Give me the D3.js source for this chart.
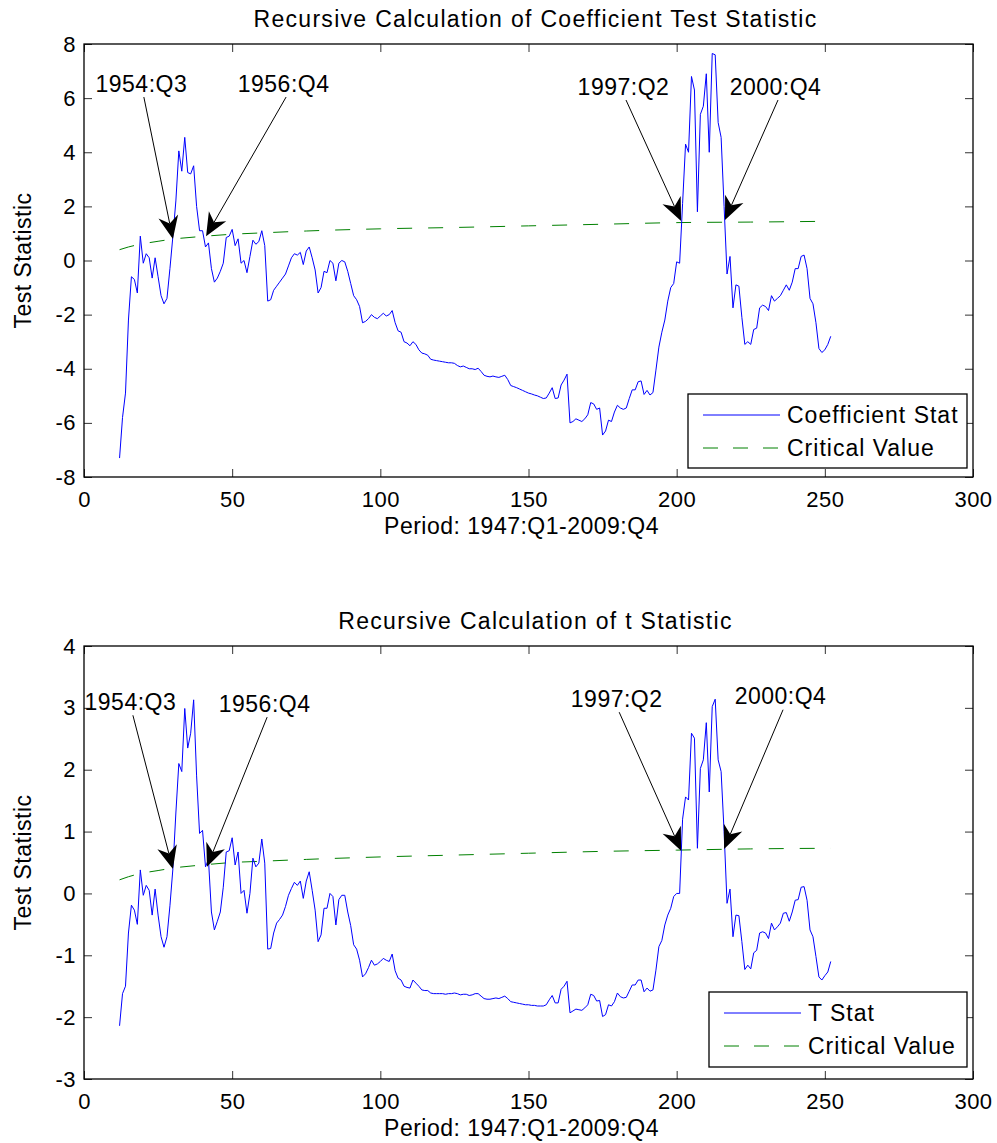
<!DOCTYPE html>
<html>
<head>
<meta charset="utf-8">
<script src="https://cdn.jsdelivr.net/npm/d3@7"></script>
<style>
  body { margin: 0; background: #fff; }
  svg text { font-family: Arial, "Liberation Sans", Helvetica, sans-serif; fill: #000; }
</style>
</head>
<body>
<svg id="chart"></svg>
<script>
const w = 997, h = 1143;

// quarters counted from 1947:Q1 = 1; both series start at period 12
const firstPeriod = 12;

const xTicks = [0, 50, 100, 150, 200, 250, 300];
const coefYTicks = [-8, -6, -4, -2, 0, 2, 4, 6, 8];
const tYTicks = [-3, -2, -1, 0, 1, 2, 3, 4];

const coefStat = [
  -7.3, -5.8, -4.9, -2.2, -0.6, -0.7, -1.2, 0.9, -0.1, 0.25,
  0.1, -0.65, 0.1, -0.6, -1.3, -1.6, -1.4, -0.3, 0.9, 2.2,
  4.05, 3.3, 4.55, 3.25, 3.2, 3.5, 2.0, 1.1, 1.1, 0.5,
  0.65, -0.3, -0.8, -0.65, -0.4, -0.1, 0.85, 0.9, 1.15, 0.55,
  0.8, -0.1, 0.0, -0.45, 0.15, 0.75, 0.6, 0.7, 1.1, 0.55,
  -1.5, -1.45, -1.1, -0.95, -0.8, -0.65, -0.5, -0.2, 0.1, 0.25,
  0.2, 0.3, -0.15, 0.35, 0.5, 0.1, -0.35, -1.2, -1.0, -0.4,
  -0.45, 0.0, -0.1, -0.75, -0.1, 0.0, -0.05, -0.4, -0.85, -1.3,
  -1.45, -1.7, -2.3, -2.25, -2.15, -2.0, -2.1, -2.15, -2.05, -1.95,
  -2.05, -2.0, -1.85, -2.3, -2.6, -2.65, -3.0, -3.05, -3.15, -3.0,
  -3.1, -3.3, -3.42, -3.45, -3.5, -3.65, -3.68, -3.7, -3.72, -3.74,
  -3.76, -3.78, -3.78, -3.8, -3.88, -3.93, -3.9, -3.95, -4.0, -4.0,
  -4.03, -3.98, -4.1, -4.24, -4.28, -4.3, -4.27, -4.3, -4.32, -4.28,
  -4.24, -4.4, -4.62, -4.66, -4.7, -4.75, -4.8, -4.85, -4.9, -4.93,
  -4.97, -5.0, -5.05, -5.1, -5.08, -4.9, -4.7, -5.1, -5.08, -4.6,
  -4.42, -4.2, -6.0, -5.95, -5.85, -5.9, -5.95, -5.85, -5.7, -5.25,
  -5.3, -5.5, -5.45, -6.45, -6.3, -5.9, -5.95, -5.6, -5.35, -5.45,
  -5.5, -5.45, -5.1, -4.78, -4.78, -4.48, -4.45, -4.95, -4.8, -4.97,
  -4.88, -4.05, -3.2, -2.65, -2.2, -1.5, -1.0, -0.85, -0.05, -0.1,
  2.1, 4.3, 4.0, 6.8, 6.3, 1.8, 5.4, 5.7, 6.9, 4.0,
  7.65, 7.6, 5.1, 4.55, 2.0, -0.5, 0.15, -1.75, -0.9, -0.95,
  -2.1, -3.1, -3.0, -3.1, -2.55, -2.5, -1.75, -1.65, -1.7, -1.85,
  -1.3, -1.5, -1.4, -1.3, -1.1, -0.9, -1.1, -0.8, -0.3, -0.3,
  0.15, 0.2, -0.3, -1.4, -1.6, -2.3, -3.25, -3.4, -3.3, -3.1,
  -2.8
];

const tStat = [
  -2.14, -1.62, -1.5, -0.64, -0.19, -0.27, -0.5, 0.38, -0.03, 0.13,
  0.05, -0.35, 0.07, -0.35, -0.7, -0.87, -0.7, -0.2, 0.4, 1.3,
  2.1, 1.97, 2.99, 2.35, 2.59, 3.13, 1.9, 0.97, 1.02, 0.43,
  0.55, -0.3, -0.59, -0.45, -0.3, 0.1, 0.67, 0.69, 0.9, 0.46,
  0.67, 0.0, 0.05, -0.32, 0.0, 0.57, 0.43, 0.49, 0.88, 0.49,
  -0.9, -0.89, -0.64, -0.48, -0.42, -0.35, -0.21, -0.03, 0.08, 0.18,
  0.13, 0.2, -0.08, 0.2, 0.35, 0.05, -0.27, -0.78, -0.67, -0.24,
  -0.24, 0.0, -0.05, -0.51, -0.1, -0.03, -0.03, -0.3, -0.52, -0.83,
  -0.9, -1.08, -1.35, -1.3, -1.2, -1.08, -1.16, -1.14, -1.1, -1.05,
  -1.08, -1.1, -0.98, -1.25, -1.37, -1.4, -1.5, -1.52, -1.53, -1.4,
  -1.45, -1.5, -1.56, -1.57, -1.57, -1.61, -1.62, -1.62, -1.62, -1.62,
  -1.63, -1.62, -1.62, -1.61, -1.62, -1.64, -1.63, -1.63, -1.65, -1.64,
  -1.62, -1.62, -1.66, -1.7, -1.71, -1.71, -1.7, -1.69, -1.7, -1.68,
  -1.66, -1.7, -1.75, -1.76, -1.77, -1.78, -1.79, -1.8, -1.8, -1.81,
  -1.81, -1.82, -1.82, -1.82, -1.8, -1.72, -1.65, -1.77, -1.77, -1.55,
  -1.5, -1.42, -1.93, -1.9, -1.87, -1.88, -1.89, -1.85, -1.8, -1.63,
  -1.65, -1.74, -1.73, -1.99, -1.96, -1.8, -1.82, -1.75, -1.61, -1.67,
  -1.69, -1.68, -1.58, -1.48, -1.48, -1.4, -1.4, -1.59, -1.53, -1.58,
  -1.56, -1.24, -0.86, -0.76, -0.51, -0.35, -0.24, -0.05, 0.0, 0.0,
  1.2, 1.56, 1.51, 2.59, 2.51, 0.73, 2.02, 2.16, 2.76, 1.64,
  3.02, 3.14, 2.16, 1.97, 1.0, -0.16, 0.07, -0.7, -0.35, -0.36,
  -0.78, -1.23, -1.16, -1.22, -0.96, -0.92, -0.64, -0.62, -0.64, -0.73,
  -0.48, -0.59, -0.54, -0.48, -0.32, -0.31, -0.45, -0.3, -0.11, -0.1,
  0.1, 0.11, -0.11, -0.59, -0.7, -1.02, -1.35, -1.4, -1.33, -1.27,
  -1.1
];

// critical value curves, read at these periods
const cvPeriods = [12, 15, 20, 25, 30, 40, 50, 60, 75, 100, 125, 150, 175, 200, 225, 252];
const cvCoef = [0.40, 0.50, 0.62, 0.71, 0.79, 0.89, 0.97, 1.02, 1.09, 1.17, 1.22, 1.28, 1.34, 1.40, 1.42, 1.45];
const cvT = [0.22, 0.27, 0.33, 0.37, 0.41, 0.46, 0.50, 0.52, 0.55, 0.59, 0.62, 0.65, 0.68, 0.70, 0.72, 0.73];

// arrow annotations: label, tail [period, value], head [period, value]
const annoLabels = ["1954:Q3", "1956:Q4", "1997:Q2", "2000:Q4"];
const coefAnnoTail = [[20.2, 6.04], [68.2, 6.04], [182.9, 5.93], [234.2, 5.93]];
const coefAnnoHead = [[30.0, 0.79], [41.2, 0.90], [201.5, 1.46], [216.3, 1.50]];
const tAnnoTail = [[16.5, 2.88], [61.8, 2.85], [180.6, 2.93], [235.9, 2.97]];
const tAnnoHead = [[30.0, 0.395], [41.5, 0.43], [201.5, 0.69], [216.0, 0.72]];

const svg = d3.select('#chart')
  .attr('width', w)
  .attr('height', h);

const xLeft = 84, xRight = 973;

const panels = [
  {
    top: 44, bottom: 477,
    yDomain: [-8, 8], yTicks: coefYTicks,
    title: 'Recursive Calculation of Coefficient Test Statistic',
    series: coefStat, cv: cvCoef, seriesName: 'Coefficient Stat',
    tails: coefAnnoTail, heads: coefAnnoHead,
    legend: { x: 688, y: 394, w: 279, h: 74 }
  },
  {
    top: 646, bottom: 1079,
    yDomain: [-3, 4], yTicks: tYTicks,
    title: 'Recursive Calculation of t Statistic',
    series: tStat, cv: cvT, seriesName: 'T Stat',
    tails: tAnnoTail, heads: tAnnoHead,
    legend: { x: 709, y: 992, w: 258, h: 75 }
  }
];

// plain hyphen for negatives, like the original
const plainNum = d => String(d);

function drawPanel(p) {
  const g = svg.append('g');

  const xScale = d3.scaleLinear().domain([0, 300]).range([xLeft, xRight]);
  const yScale = d3.scaleLinear().domain(p.yDomain).range([p.bottom, p.top]);

  // ticks on all four sides, pointing inward
  const tickStyle = sel => {
    sel.select('.domain').remove();
    sel.selectAll('.tick line').attr('stroke', '#333');
    sel.selectAll('text').style('font-size', '22px').style('letter-spacing', '0.5px');
  };

  g.append('g')
    .attr('transform', `translate(0, ${p.bottom})`)
    .call(d3.axisBottom(xScale).tickValues(xTicks).tickSize(-8).tickPadding(14).tickFormat(plainNum))
    .call(tickStyle);
  g.append('g')
    .attr('transform', `translate(0, ${p.top})`)
    .call(d3.axisTop(xScale).tickValues(xTicks).tickSize(-8).tickFormat(''))
    .call(tickStyle);
  g.append('g')
    .attr('transform', `translate(${xLeft}, 0)`)
    .call(d3.axisLeft(yScale).tickValues(p.yTicks).tickSize(-8).tickPadding(8).tickFormat(plainNum))
    .call(tickStyle);
  g.append('g')
    .attr('transform', `translate(${xRight}, 0)`)
    .call(d3.axisRight(yScale).tickValues(p.yTicks).tickSize(-8).tickFormat(''))
    .call(tickStyle);

  g.selectAll('.tick text').attr('fill', '#000');

  // axes box
  g.append('rect')
    .attr('x', xLeft)
    .attr('y', p.top)
    .attr('width', xRight - xLeft)
    .attr('height', p.bottom - p.top)
    .attr('fill', 'none')
    .attr('stroke', '#000')
    .attr('stroke-width', 1.3);

  // critical value (dashed green)
  const cvLine = d3.line()
    .x((d, i) => xScale(cvPeriods[i]))
    .y(d => yScale(d))
    .curve(d3.curveMonotoneX);
  g.append('path')
    .datum(p.cv)
    .attr('d', cvLine)
    .attr('fill', 'none')
    .attr('stroke', '#008000')
    .attr('stroke-width', 1)
    .attr('stroke-dasharray', '15,16');

  // statistic (solid blue)
  const statLine = d3.line()
    .x((d, i) => xScale(firstPeriod + i))
    .y(d => yScale(d));
  g.append('path')
    .datum(p.series)
    .attr('d', statLine)
    .attr('fill', 'none')
    .attr('stroke', '#0000ff')
    .attr('stroke-width', 1)
    .attr('stroke-linejoin', 'round');

  // annotation arrows
  const HEAD_LEN = 23, HEAD_HALF = 10, NOTCH = 16;
  annoLabels.forEach((label, i) => {
    const tx = xScale(p.tails[i][0]), ty = yScale(p.tails[i][1]);
    const hx = xScale(p.heads[i][0]), hy = yScale(p.heads[i][1]);
    const len = Math.hypot(hx - tx, hy - ty);
    const ux = (hx - tx) / len, uy = (hy - ty) / len;
    const nx = -uy, ny = ux;
    const bx = hx - ux * HEAD_LEN, by = hy - uy * HEAD_LEN;
    const mx = hx - ux * NOTCH, my = hy - uy * NOTCH;

    g.append('line')
      .attr('x1', tx).attr('y1', ty)
      .attr('x2', mx).attr('y2', my)
      .attr('stroke', '#000')
      .attr('stroke-width', 1);

    g.append('path')
      .attr('d', `M${hx},${hy}L${bx + nx * HEAD_HALF},${by + ny * HEAD_HALF}L${mx},${my}L${bx - nx * HEAD_HALF},${by - ny * HEAD_HALF}Z`)
      .attr('fill', '#000');

    g.append('text')
      .attr('x', tx - 2.5)
      .attr('y', ty - 5.5)
      .attr('text-anchor', 'middle')
      .style('font-size', '23px')
      .style('letter-spacing', '0.5px')
      .text(label);
  });

  // title
  g.append('text')
    .attr('x', (xLeft + xRight) / 2 + 7)
    .attr('y', p.top - 17)
    .attr('text-anchor', 'middle')
    .style('font-size', '23px')
    .style('letter-spacing', '1.3px')
    .text(p.title);

  // x axis label
  g.append('text')
    .attr('x', (xLeft + xRight) / 2 - 7)
    .attr('y', p.bottom + 57)
    .attr('text-anchor', 'middle')
    .style('font-size', '23px')
    .style('letter-spacing', '0.5px')
    .text('Period: 1947:Q1-2009:Q4');

  // y axis label
  g.append('text')
    .attr('transform', `translate(31, ${(p.top + p.bottom) / 2}) rotate(-90)`)
    .attr('text-anchor', 'middle')
    .style('font-size', '23px')
    .style('letter-spacing', '0.5px')
    .text('Test Statistic');

  // legend
  const lg = g.append('g').attr('transform', `translate(${p.legend.x}, ${p.legend.y})`);
  lg.append('rect')
    .attr('width', p.legend.w)
    .attr('height', p.legend.h)
    .attr('fill', '#fff')
    .attr('stroke', '#000')
    .attr('stroke-width', 1.3);

  const rows = [
    { name: p.seriesName, color: '#0000ff', dash: null },
    { name: 'Critical Value', color: '#008000', dash: '15,15' }
  ];
  rows.forEach((r, i) => {
    const cy = 21 + i * 33;
    lg.append('line')
      .attr('x1', 15).attr('x2', 92)
      .attr('y1', cy).attr('y2', cy)
      .attr('stroke', r.color)
      .attr('stroke-width', 1)
      .attr('stroke-dasharray', r.dash);
    lg.append('text')
      .attr('x', 99)
      .attr('y', cy)
      .attr('dy', '0.36em')
      .style('font-size', '23px')
      .style('letter-spacing', '1px')
      .text(r.name);
  });
}

panels.forEach(drawPanel);
</script>
</body>
</html>
